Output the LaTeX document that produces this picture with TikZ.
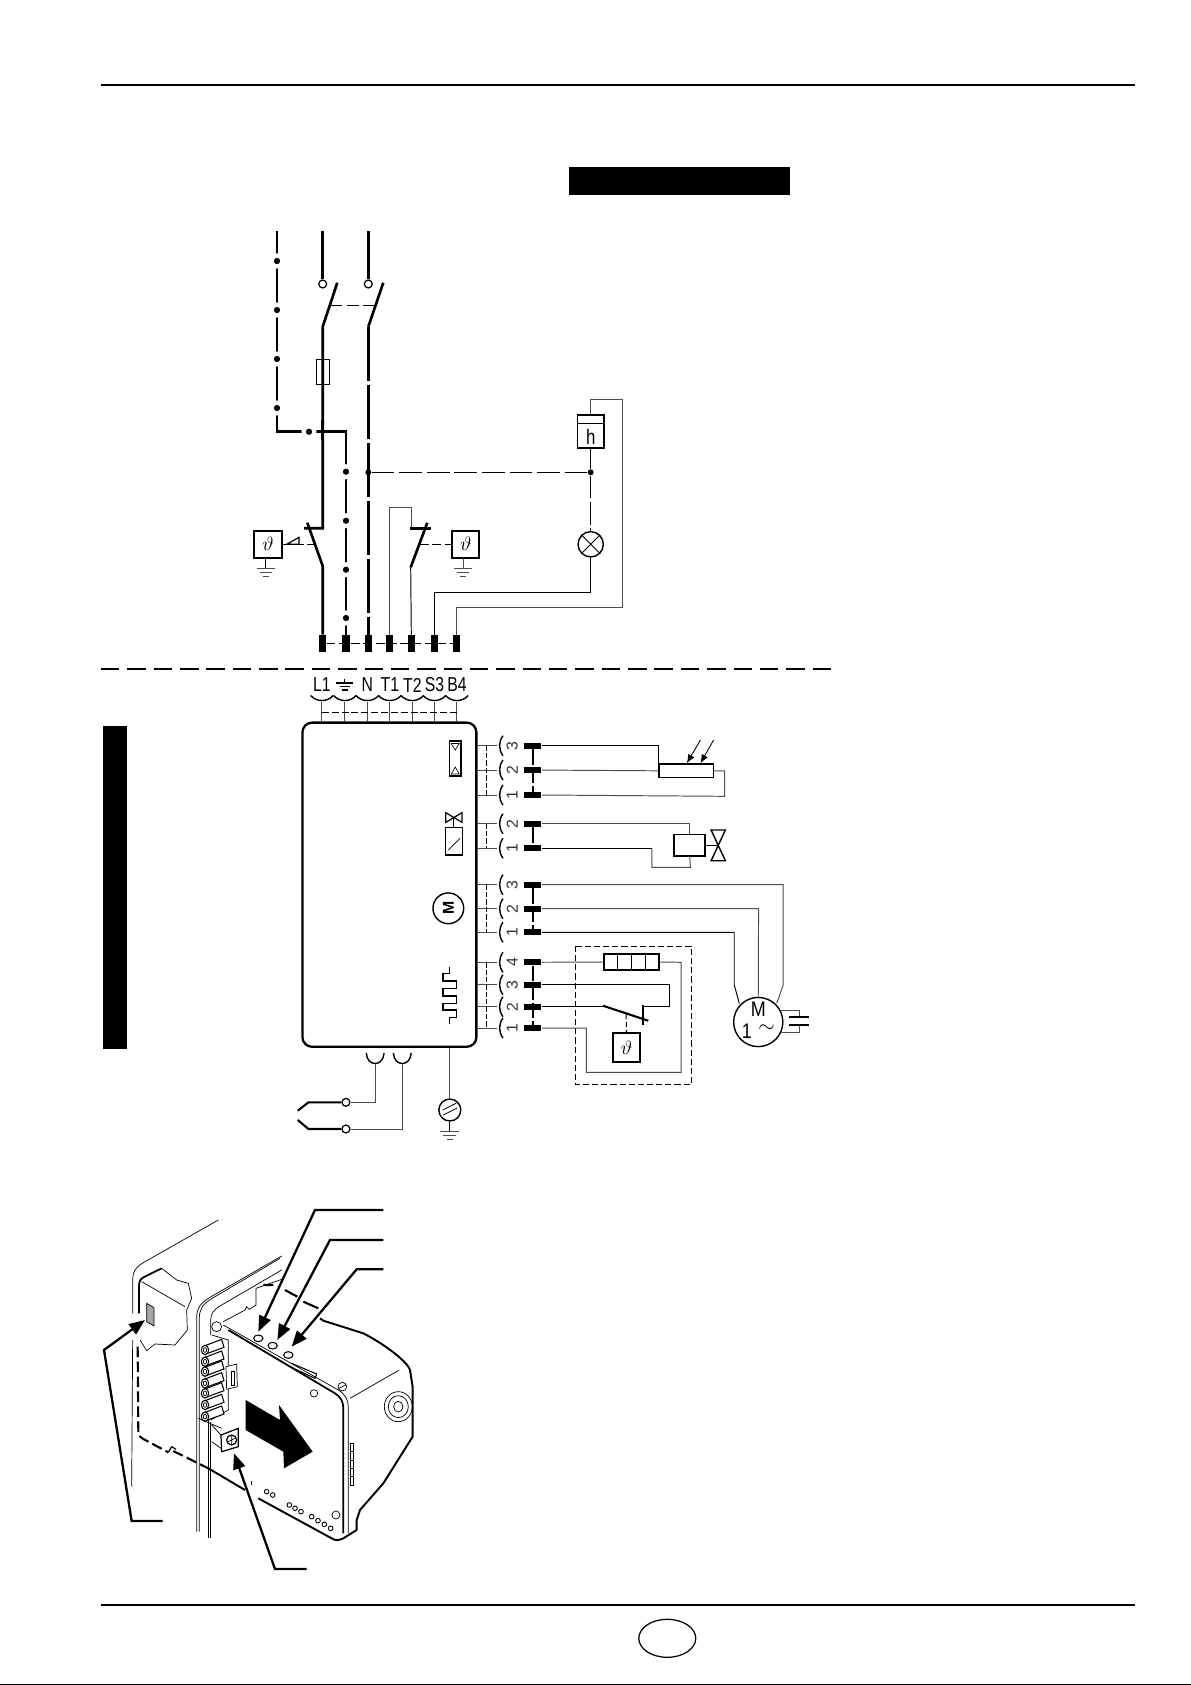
\documentclass[tikz,border=0pt]{standalone}
\usepackage{fontspec}
\setmainfont{Liberation Sans}
\usetikzlibrary{arrows.meta}

\tikzset{
    wire/.style={black!70, line width=0.55pt},
    wirek/.style={black, line width=0.55pt},
    power/.style={black, line width=1.5pt},
    thin dash/.style={black, line width=0.6pt, dash pattern=on 5pt off 2pt},
    lead/.style={black, line width=1.3pt, -{Triangle[length=9pt, width=7pt]}},
    term/.style={fill=black, inner sep=0pt, minimum width=4pt, minimum height=9.5pt},
    termh/.style={fill=black, inner sep=0pt, minimum width=9.7pt, minimum height=3.4pt},
    sbox/.style={draw=black, line width=1.1pt, fill=white, inner sep=0pt, minimum width=15.5pt, minimum height=15.5pt},
    jdot/.style={circle, fill=black, draw=white, line width=2.3pt, inner sep=0pt, minimum size=6.2pt},
    ring/.style={circle, draw=black, fill=white, line width=0.7pt, inner sep=0pt, minimum size=4.5pt},
    lbl/.style={inner sep=0pt, font=\fontsize{11}{11}\selectfont},
    plug/.style={inner sep=0pt, xscale=0.78, font=\fontsize{11.5}{11.5}\selectfont},
    pin/.style={inner sep=0pt, rotate=90, black!80, font=\fontsize{9}{9}\selectfont},
    pic thin/.style={black, line width=0.4pt},
    pic thick/.style={black, line width=1pt, line join=round},
}

% one socket with its pin number and terminal on the right of the controller
\newcommand{\pinrow}[3]{
    \draw[wire] (464,#1) -- (482.7,#1);
    \draw[black, line width=0.8pt] (488.3,#1-10) to[bend right=35] (488.3,#1+10);
    \node[pin] (p#2) at (497,#1) {#3};
    \node[termh] (#2) at (516.3,#1) {};
}

\newcommand{\earthat}[2]{
    \draw[wire] (#1-9,#2) -- (#1+9,#2);
    \draw[wire] (#1-6,#2+4) -- (#1+6,#2+4);
    \draw[wire] (#1-3,#2+8) -- (#1+3,#2+8);
}

\begin{document}
\begin{tikzpicture}[x=0.02cm, y=-0.02cm]
    \useasboundingbox (0,0) rectangle (1191,1685);

    % page furniture
    \draw[black, line width=1.2pt] (101,84.7) -- (1135,84.7);
    \draw[black, line width=1.2pt] (101,1605) -- (1135,1605);
    \draw[black, line width=0.7pt] (667.3,1638.3) ellipse (28.5 and 19);
    \draw[black, line width=0.6pt] (0,1684.2) -- (1191,1684.2);
    \fill[black] (569,166.6) rectangle (790,194.6);
    \fill[black] (103,725.6) rectangle (127,1049);
    \draw[black, line width=1pt, dash pattern=on 10.5pt off 4.5pt] (101,669) -- (836,669);

    % upper terminals
    \foreach \nm/\xx in {tLa/322.7, tPe/346, tNe/368.3, tTa/389.7, tTb/411.3, tSc/434.3, tBd/456.7}
        \node[term] (\nm) at (\xx,643.3) {};
    \draw[thin dash] (tLa) -- (tBd);

    % phase and neutral
    \node[ring] (swL) at (322.7,284) {};
    \node[ring] (swN) at (368.3,284) {};
    \draw[power] (322.7,230.7) -- (swL);
    \draw[power] (368.3,230.7) -- (swN);
    \draw[power] (337.3,282.7) -- (322.7,326.7) -- (322.7,528.3) -- (304,528.3);
    \draw[power] (383.3,282.7) -- (368.3,326.7);
    \draw[power, dash pattern=on 31pt off 2pt] (368.3,326.7) -- (tNe);
    \draw[black, line width=0.6pt, dash pattern=on 7pt off 2.5pt] (330,305.7) -- (376,305.7);
    \node[draw=black, line width=0.4pt, inner sep=0pt, minimum width=7.4pt, minimum height=14.2pt, fill=none] (fuse) at (322.8,371.8) {};
    \draw[power] (307.3,522.7) -- (322.7,566) -- (tLa);

    % earth, dots with a gap
    \draw[power] (277,230.7) -- (277,431.7) -- (346,431.7) -- (tPe);
    \foreach \yy in {261,310,359,408}
        \node[jdot] at (277,\yy) {};
    \node[jdot] at (309,431.7) {};
    \foreach \yy in {471.7,520.7,569.7,618}
        \node[jdot] at (346,\yy) {};
    \draw[power] (322.7,420) -- (322.7,440);

    % hour counter and lamp
    \node[draw=black, line width=1.1pt, fill=white, inner sep=0pt, minimum width=15pt, minimum height=18.5pt] (hbox) at (590.7,431.3) {};
    \draw[black, line width=0.9pt] (hbox.west |- 0,423.3) -- (hbox.east |- 0,423.3);
    \node[lbl, font=\fontsize{12}{12}\selectfont, xscale=0.8] (hlbl) at (590.7,436.7) {h};
    \node[circle, draw=black, line width=0.8pt, inner sep=0pt, minimum size=14.4pt] (lamp) at (590.7,544.3) {};
    \draw[black, line width=0.5pt] (lamp.45) -- (lamp.225) (lamp.135) -- (lamp.315);
    \node[circle, fill=black, inner sep=0pt, minimum size=3.4pt] (jN) at (368.3,472.3) {};
    \node[circle, fill=black, inner sep=0pt, minimum size=3.4pt] (jH) at (590.7,472.3) {};
    \draw[black, line width=0.6pt, dash pattern=on 13pt off 2.7pt] (jN) -- (jH);
    \draw[black, line width=0.6pt, dash pattern=on 13pt off 2pt] (hbox.south) -- (jH);
    \draw[black, line width=0.6pt, dash pattern=on 13pt off 2pt] (jH) -- (lamp.north);
    \draw[wire] (hbox.north) |- (622.7,399) -- (622.7,607.3) -- (456.7,607.3) -- (tBd.north);
    \draw[wirek] (lamp.south) |- (434.3,592.7) -- (tSc.north);

    % thermostats
    \node[sbox] (thL) at (268,544.3) {};
    \node[lbl] at (268,544.3) {$\vartheta$};
    \node[sbox] (thR) at (465.8,544.3) {};
    \node[lbl] at (465.8,544.3) {$\vartheta$};
    \draw[black, line width=0.6pt, dash pattern=on 5pt off 2pt] (thL.east) -- (316.7,544.3);
    \draw[black, line width=0.7pt, fill=white] (286.7,544.3) -- (299,537.3) -- (299,544.3) -- cycle;
    \draw[black, line width=0.6pt, dash pattern=on 5pt off 2pt] (420,544.3) -- (thR.west);
    \draw[wirek] (265.7,558) -- (265.7,568.3);
    \earthat{265.7}{568.3}
    \draw[wire] (463,558) -- (463,568.3);
    \earthat{463}{568.3}
    \draw[wire] (tTa.north) |- (411.3,507.3) -- (411.3,528.3);
    \draw[power] (410,528.3) -- (430.7,528.3);
    \draw[power] (427.3,522.7) -- (410.7,567.3);
    \draw[wirek] (410.7,567.3) -- (tTb.north);

    \begin{scope}[shift={(-20,0)}, x=0.0214286cm]
    % controller
    \node[draw=black, line width=1.3pt, rounded corners=5.5pt, inner sep=0pt, minimum width=99pt, minimum height=184.5pt] (ctrl) at (382.3,884.7) {};

    % upper sockets
    \foreach \nm/\xx/\tx in {sLa/319.3/L1, sNe/361.7/N, sTa/382.7/T1, sTb/403.7/T2, sSc/424.3/S3, sBd/445.3/B4}
        \node[plug] (\nm) at (\xx,685) {\tx};
    \draw[black, line width=0.6pt] (340.7-8,683) -- (340.7+8,683) (340.7,679) -- (340.7,683);
    \draw[black, line width=0.6pt] (340.7-5,686.5) -- (340.7+5,686.5);
    \draw[black, line width=0.6pt] (340.7-2.5,690) -- (340.7+2.5,690);
    \foreach \xx in {319.3,340.7,361.7,382.7,403.7,424.3,445.3} {
        \draw[black, line width=0.8pt] (\xx-10.5,695.5) to[bend right=50] (\xx+10.5,695.5);
        \draw[wire] (\xx,701.5) -- (\xx,721.5);
    }
    \draw[black, line width=0.7pt, dash pattern=on 4pt off 1.6pt] (319.3,712.3) -- (445.3,712.3);

    % pins on the right
    \pinrow{745.7}{ra}{3}
    \pinrow{770}{rb}{2}
    \pinrow{795}{rc}{1}
    \pinrow{823.7}{va}{2}
    \pinrow{848.3}{vb}{1}
    \pinrow{884.7}{ma}{3}
    \pinrow{908.7}{mb}{2}
    \pinrow{932.3}{mc}{1}
    \pinrow{962.3}{ha}{4}
    \pinrow{984.7}{hb}{3}
    \pinrow{1006.7}{hc}{2}
    \pinrow{1028}{hd}{1}
    \foreach \aa/\bb in {ra/rc, va/vb, ma/mc, ha/hd} {
        \draw[black, line width=0.8pt, dash pattern=on 9pt off 1.5pt] (\aa) -- (\bb);
        \draw[black, line width=0.45pt, dash pattern=on 3pt off 1.2pt] (473.3,0 |- \aa) -- (473.3,0 |- \bb);
    }

    % symbols in the controller
    \draw[black, line width=1pt, fill=white] (438.3,740.7) rectangle (449.3,776);
    \draw[black, line width=0.35pt] (440,743.5) -- (447.5,743.5) -- (443.8,750) -- cycle;
    \draw[black, line width=0.35pt] (440,774) -- (447.5,774) -- (443.8,767) -- cycle;
    \draw[black, line width=0.7pt] (435,812.7) -- (450,822.3) -- (450,812.7) -- (435,822.3) -- cycle;
    \draw[black, line width=0.5pt] (442.5,817.5) -- (442.5,827.3);
    \draw[black, line width=0.7pt] (435,827.3) rectangle (450.3,855);
    \draw[black, line width=0.4pt] (437.3,850) -- (448.3,838.3);
    \node[circle, draw=black, line width=0.8pt, inner sep=0pt, minimum size=17.5pt] (mIn) at (437.3,908.3) {};
    \node[rotate=90, inner sep=0pt, font=\fontsize{9}{9}\selectfont\bfseries] at (mIn) {M};
    \draw[black, line width=0.9pt] (438.3,966.7) -- (438.3,973.3) -- (432.3,973.3) -- (432.3,981) -- (445,981) -- (445,988.3)
        -- (432.3,988.3) -- (432.3,995.7) -- (445,995.7) -- (445,1003.3) -- (432.3,1003.3) -- (432.3,1010) -- (445,1010)
        -- (445,1017.3) -- (438.3,1017.3) -- (438.3,1024);

    % photo cell
    \node[draw=black, line width=0.8pt, inner sep=0pt, minimum width=31pt, minimum height=7.8pt] (cell) at (659.5,770.8) {};
    \draw[wirek] (ra) -| (634,764);
    \draw[wire] (rb) -- (cell.west);
    \draw[wire] (rc.east) -- (695.3,796.3) |- (cell.east);
    \draw[black, line width=0.5pt, -{Latex[length=5pt, width=4pt]}] (672.7,740) -- (660,763.3);
    \draw[black, line width=0.5pt, -{Latex[length=5pt, width=4pt]}] (685,740) -- (672.7,763.3);

    % valve
    \node[draw=black, line width=1pt, inner sep=0pt, minimum width=17.6pt, minimum height=12.4pt] (coil) at (662.8,845.3) {};
    \draw[wire] (va) -| (coil.north);
    \draw[wirek] (vb) -- (627.3,848.3);
    \draw[wire] (627.3,848.3) |- (663.3,867.3) -- (coil.south);
    \draw[black, line width=0.8pt] (682.7,830) -- (696,830) -- (682.7,860.7) -- (696,860.7) -- cycle;
    \draw[wirek] (coil.east) -- (689.3,845.3);

    % motor
    \node[circle, draw=black, line width=0.8pt, inner sep=0pt, minimum size=28pt] (mot) at (726.7,1022) {};
    \node[lbl, font=\fontsize{12}{12}\selectfont, xscale=0.85] at (726.7,1009.5) {M};
    \node[lbl, font=\fontsize{12}{12}\selectfont, xscale=0.85] at (716,1031) {1};
    \node[lbl, font=\fontsize{12}{12}\selectfont] at (734.5,1029) {$\sim$};
    \draw[wire] (ma) -- (750,884.7) -- (750,985) -- (744,1003.3);
    \draw[wire] (mb) -- (727,908.7) -- (mot.north);
    \draw[wirek] (mc) -- (704.3,932.3) -- (704.3,985) -- (709,1003.3);
    \draw[wire] (748.3,1010.7) -- (765,1010.7) -- (765,1017.3);
    \draw[wire] (748.3,1032.7) -- (765,1032.7) -- (765,1025);
    \draw[black, line width=1pt] (755,1017.3) -- (774.3,1017.3);
    \draw[black, line width=1pt] (755,1025) -- (774.3,1025);

    % air pressure switch and heater in the dashed box
    \draw[black, line width=0.5pt, dash pattern=on 3.5pt off 1.7pt] (555.7,946) rectangle (664.3,1084.3);
    \node[draw=black, line width=1.2pt, inner sep=0pt, minimum width=31.6pt, minimum height=8.7pt] (heat) at (608.3,962) {};
    \draw[black, line width=0.4pt] (595.3,954.3) -- (595.3,969.7) (608.3,954.3) -- (608.3,969.7) (621.3,954.3) -- (621.3,969.7);
    \draw[wire] (ha) -- (heat.west);
    \draw[wire] (heat.east) -- (654.7,962.3) -- (654.7,1072.3) -- (566.3,1072.3) -- (566.3,1028) -- (hd);
    \node[sbox, minimum width=15.7pt, minimum height=16.4pt] (thS) at (603.7,1047.8) {};
    \node[lbl] at (603.7,1047.8) {$\vartheta$};
    \draw[black, line width=1.2pt] (581.7,1005.7) -- (624,1020.7);
    \draw[black, line width=1.2pt] (619,1005) -- (619,1025);
    \draw[wirek] (hb) -- (644,984.7) -- (644,1006.7) -- (619,1006.7);
    \draw[wirek] (hc) -- (581.7,1006.7);
    \draw[black, line width=0.6pt, dash pattern=on 3pt off 1.5pt] (603.3,1014) -- (thS.north);

    % ionisation plug and earth
    \node[ring] (elA) at (341.7,1102.3) {};
    \node[ring] (elB) at (341.7,1129) {};
    \foreach \xx in {369,394.3}
        \draw[black, line width=0.8pt] (\xx-8.3,1053) .. controls (\xx-8,1060) and (\xx-4,1063.5) .. (\xx,1063.5) .. controls (\xx+4,1063.5) and (\xx+8,1060) .. (\xx+8.3,1053);
    \draw[wire] (369,1063.5) |- (elA);
    \draw[wire] (394.3,1063.5) |- (elB);
    \draw[black, line width=1.2pt] (elA) -- (306.7,1102.3) -- (296.7,1110.7);
    \draw[black, line width=1.2pt] (elB) -- (306.7,1129) -- (296.7,1120);
    \node[circle, draw=black, line width=0.8pt, inner sep=0pt, minimum size=12.5pt] (gnd) at (438.7,1110) {};
    \draw[black, line width=0.45pt] (432,1110) -- (445,1103) (432.5,1115) -- (445.5,1108);
    \draw[wire] (438.7,1047.7) -- (gnd.north);
    \draw[wirek] (gnd.south) -- (438.7,1131);
    \earthat{438.7}{1131}
    \end{scope}

    % photo of the controller, in crop coordinates
    \begin{scope}[shift={(90,1190)}, x=0.006667cm, y=-0.006667cm]
        % back housing
        \draw[pic thin] (385,90) -- (165,215) .. controls (135,232) and (128,245) .. (128,275) -- (128,370);
        \draw[pic thin] (128,450) -- (125,890);
        \draw[pic thick] (215,235) -- (160,262) .. controls (150,268) and (147,275) .. (147,290) -- (147,370);
        \draw[pic thin] (155,275) -- (285,350);
        \draw[pic thin] (215,235) -- (260,270) -- (295,280) -- (305,325) -- (290,360) -- (292,420) -- (255,465) -- (195,462) -- (170,482) -- (150,450);
        \draw[pic thin, fill=black!35] (170,340) -- (192,353) -- (192,408) -- (170,395) -- cycle;
        % frame lines
        \draw[pic thin] (575,198) -- (360,322) .. controls (330,340) and (320,355) .. (320,385) -- (320,1025);
        \draw[pic thin] (570,205) -- (365,326) .. controls (338,342) and (328,358) .. (328,385) -- (328,1025);
        \draw[pic thin] (575,240) -- (395,345) .. controls (372,358) and (362,370) .. (362,390) -- (362,435);
        \draw[pic thin] (355,690) -- (355,1045) (362,695) -- (362,1045);
        \draw[pic thin] (400,395) -- (465,360) -- (470,350) -- (478,358) -- (498,345) -- (498,295) -- (575,268);
        % dashed run of the cover edge
        \draw[pic thick, line width=1.2pt, dash pattern=on 6pt off 2.5pt] (143,470) -- (145,725) .. controls (146,738) and (150,740) .. (160,747) -- (235,787);
        \draw[pic thick, line width=0.7pt] (235,787) -- (245,770) -- (258,778);
        \draw[pic thick, line width=1.2pt, dash pattern=on 6pt off 2.5pt] (250,783) -- (355,835);
        \draw[pic thick, line width=1.2pt] (520,285) -- (550,285) (585,300) -- (622,320) (640,335) -- (685,355);
        % body
        \draw[pic thick, line width=1.1pt] (690,385) -- (700,392) -- (820,430) .. controls (870,455) and (950,510) .. (960,540) -- (968,590) -- (968,740) -- (880,880) -- (810,960) -- (800,990) -- (800,1020) -- (760,1045) .. controls (745,1052) and (735,1052) .. (725,1045) -- (505,925);
        \draw[pic thick, line width=1.1pt] (355,835) -- (465,900);
        \draw[pic thick, line width=1pt] (415,420) -- (735,610) .. controls (752,620) and (760,635) .. (760,655) -- (760,1030);
        \draw[pic thin] (400,405) -- (745,600) .. controls (765,612) and (775,630) .. (775,650) -- (775,1030);
        \draw[pic thin] (780,625) -- (928,540);
        % leds and screws
        \draw[pic thin, fill=white] (380,410) circle (15);
        \foreach \xx/\yy in {505/445, 548/467, 595/495}
            \draw[black, line width=0.6pt, fill=white] (\xx,\yy) ellipse (14 and 10);
        \draw[pic thin] (757,590) circle (13) (748,595) -- (766,585);
        \draw[pic thin] (672,610) circle (11) (738,975) circle (12);
        \draw[pic thin] (925,650) ellipse (42 and 45) (925,650) ellipse (30 and 33) (925,650) ellipse (14 and 16);
        \draw[black, line width=0.6pt] (605,520) -- (680,552) -- (675,565) -- (600,530);
        % terminal posts on the side
        \draw[pic thin] (365,435) -- (415,450) -- (415,660) -- (362,690);
        \foreach \yy in {480,515,545,580,610,645,680} {
            \draw[black, line width=0.6pt, fill=white] (345,\yy-13) -- (395,\yy-32) -- (402,\yy-8) -- (345,\yy+13) -- cycle;
            \draw[black, line width=0.6pt, fill=white] (345,\yy) ellipse (11 and 14);
            \draw[pic thin] (345,\yy) ellipse (5 and 7);
        }
        \draw[pic thin, fill=white] (408,530) -- (440,522) -- (442,590) -- (410,598) -- cycle;
        \draw[black, line width=0.5pt] (423,545) rectangle (432,585);
        % mounting screw
        \draw[pic thin] (325,685) -- (395,715) (365,705) -- (393,735) (365,755) -- (393,775);
        \draw[black, line width=0.7pt, fill=white] (393,735) -- (445,715) -- (445,770) -- (395,785) -- cycle;
        \draw[black, line width=0.7pt, fill=white] (425,750) circle (15);
        \draw[pic thin] (415,755) -- (435,745) (425,738) -- (425,762);
        % arrow printed on the panel
        \fill[black] (467,630) -- (570,690) -- (567,645) -- (668,785) -- (582,835) -- (580,785) -- (467,720) -- cycle;
        % side strip and lower holes
        \draw[pic thin] (780,760) rectangle (790,885);
        \foreach \yy in {785,810,835,860}
            \draw[pic thin] (780,\yy) -- (790,\yy);
        \foreach \xx/\yy in {530/905, 548/915, 598/945, 615/955, 633/965, 665/980, 684/992, 703/1003, 722/1015}
            \draw[black, line width=0.5pt] (\xx,\yy) circle (7);
        \draw[pic thin] (485,872) -- (485,885);
        % leader lines
        \draw[lead] (880,60) -- (675,60) -- (505,425);
        \draw[lead] (880,150) -- (720,150) -- (562,450);
        \draw[lead] (880,238) -- (800,238) -- (605,470);
        \draw[lead] (218,993) -- (125,993) -- (42,480) -- (165,390);
        \draw[lead] (650,1137) -- (555,1137) -- (432,790);
    \end{scope}
\end{tikzpicture}
\end{document}
